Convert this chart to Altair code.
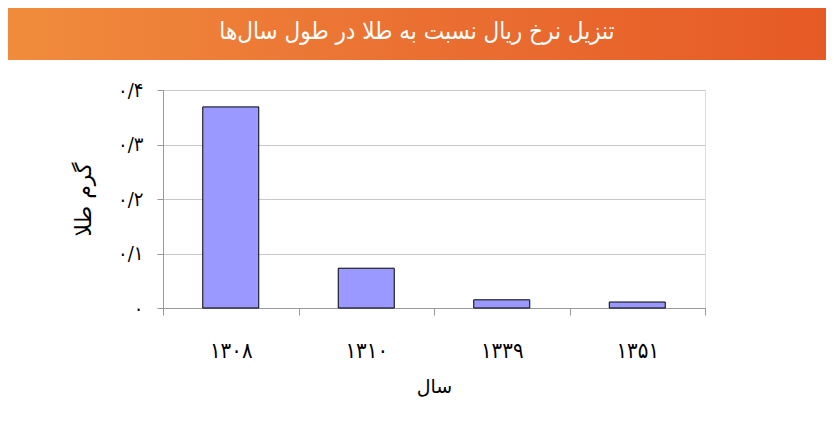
import altair as alt
import pandas as pd

title_text = "تنزیل نرخ ریال نسبت به طلا در طول سال‌ها"
years = ["۱۳۰۸", "۱۳۱۰", "۱۳۳۹", "۱۳۵۱"]
grams = [0.369, 0.073, 0.015, 0.011]
y_ticks = [0, 0.1, 0.2, 0.3, 0.4]
y_tick_labels = ["۰", "۰/۱", "۰/۲", "۰/۳", "۰/۴"]
x_title = "سال"
y_title = "گرم طلا"

W, H = 542, 218
PAD = {"left": 155, "top": 82, "right": 121, "bottom": 100}
FONT = "DejaVu Sans"
FONT_C = "DejaVu Sans Condensed"

df = pd.DataFrame({"year": years, "grams": grams})
label_expr = "[" + ",".join("'" + l + "'" for l in y_tick_labels) + "][round(datum.value*10)]"

bars = alt.Chart(df).mark_bar(size=56, color="#9999ff", stroke="#000000", strokeWidth=1).encode(
    x=alt.X(
        "year:N", sort=years,
        scale=alt.Scale(paddingInner=0, paddingOuter=0),
        axis=alt.Axis(
            title=x_title, tickBand="extent", labelAngle=0, labelFontSize=22,
            labelPadding=25, labelFont=FONT_C, labelColor="#000", titleFont=FONT,
            titleFontSize=19, titleFontWeight="normal", titleColor="#000", titlePadding=16,
            domainColor="#999", tickColor="#999", tickSize=7, grid=False,
        ),
    ),
    y=alt.Y(
        "grams:Q", scale=alt.Scale(domain=[0, 0.4]),
        axis=alt.Axis(
            values=y_ticks, labelExpr=label_expr, title=y_title, labelFont=FONT_C,
            labelFontSize=20, labelColor="#000", labelPadding=14, tickSize=6,
            tickColor="#999", domainColor="#999", gridColor="#c8c8c8",
            titleFont=FONT, titleFontSize=22, titleFontWeight="normal", titleColor="#000",
            titlePadding=22,
        ),
    ),
)

banner_df = pd.DataFrame({"t": [title_text]})
gradient = alt.LinearGradient(
    gradient="linear", x1=0, x2=1, y1=0, y2=0,
    stops=[alt.GradientStop(color="#f08c3c", offset=0),
           alt.GradientStop(color="#ea7032", offset=0.5),
           alt.GradientStop(color="#e65a26", offset=1)],
)
banner = alt.Chart(banner_df).mark_rect(color=gradient).encode(
    x=alt.value(-PAD["left"]), x2=alt.value(W + PAD["right"]),
    y=alt.value(-PAD["top"]), y2=alt.value(-30),
)
banner_text = alt.Chart(banner_df).mark_text(
    color="white", fontSize=24, font=FONT_C, align="center", baseline="middle"
).encode(
    text="t:N", x=alt.value(254), y=alt.value(-58),
)

chart = alt.layer(banner, banner_text, bars).properties(
    width=W, height=H,
    autosize=alt.AutoSizeParams(type="none"),
    padding=PAD,
).configure_view(stroke="#999").configure(background="white")

chart.save("out.html", embed_options={"renderer": "svg", "actions": False})
